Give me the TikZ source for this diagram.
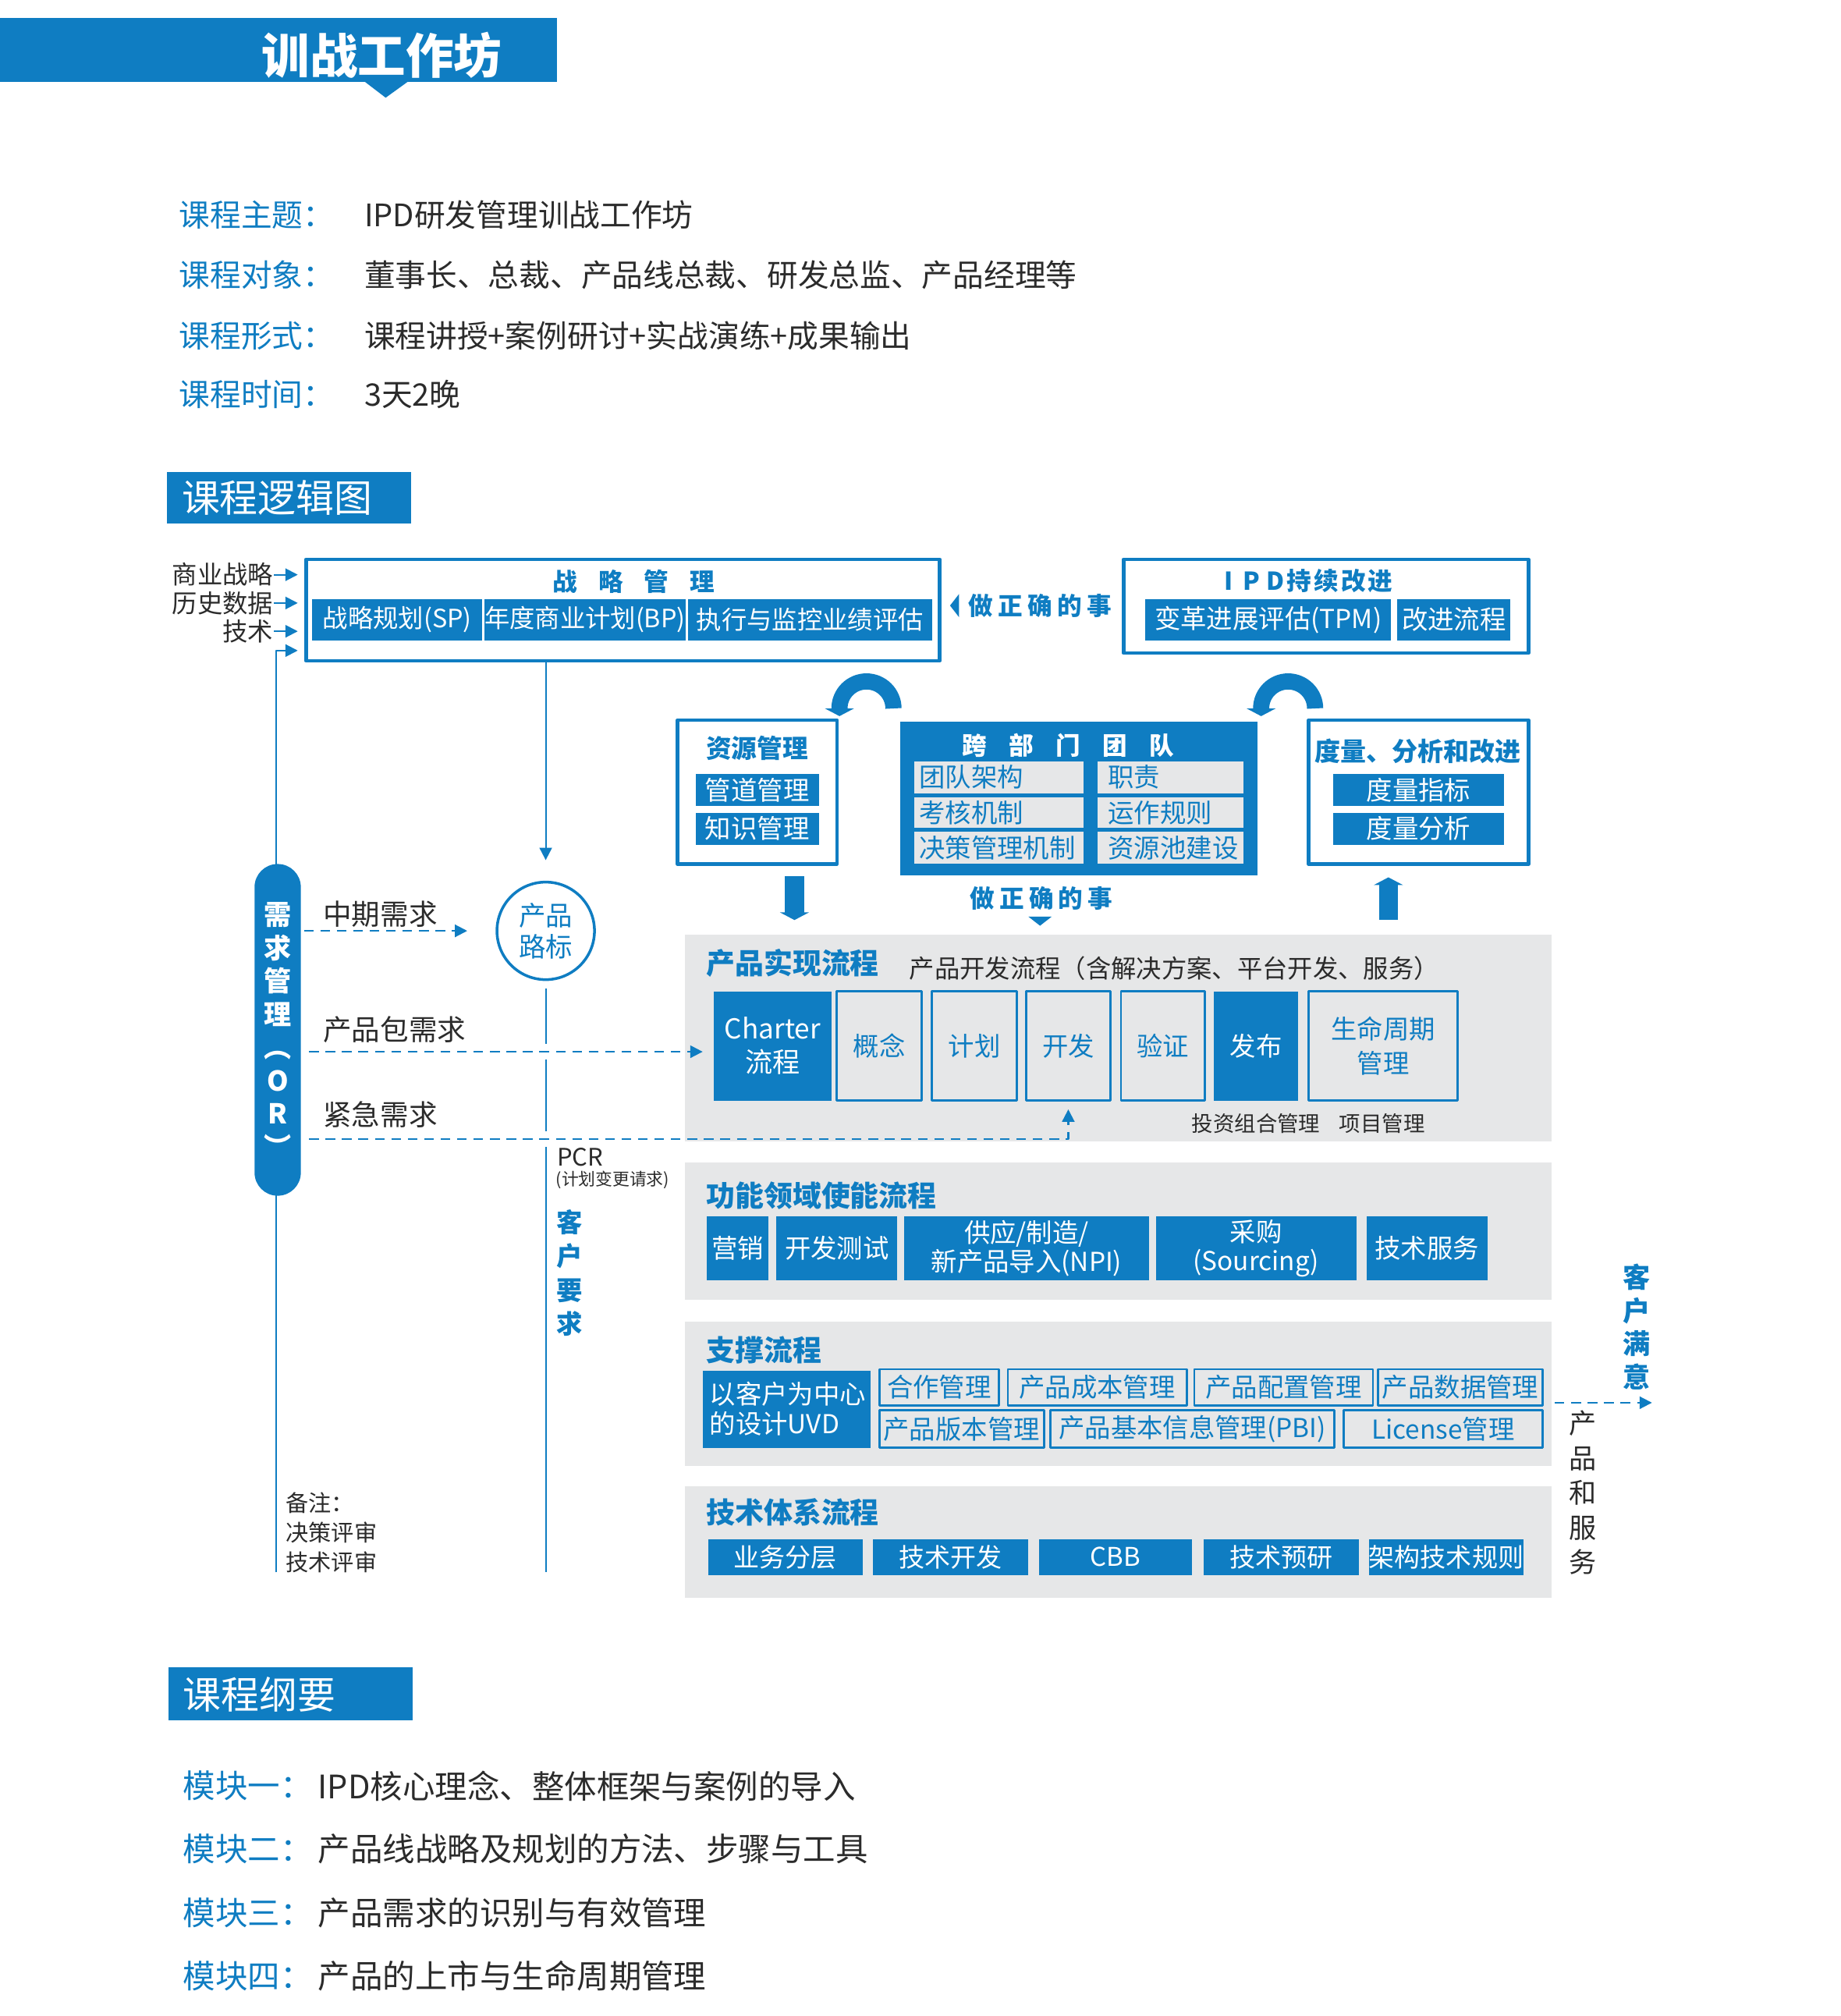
\documentclass[tikz,border=0pt]{standalone}
\usepackage{fontspec}
\setmainfont{Noto Sans CJK SC}
\usetikzlibrary{arrows.meta}
\definecolor{ipdblue}{HTML}{0F7DC2}
\definecolor{panelgray}{HTML}{E6E7E8}
\definecolor{inkgray}{HTML}{2B2B2B}
\newcommand{\pxu}{0.01648cm}
\newcommand{\fs}[2]{\fontsize{#1}{#2}\selectfont}
\newcommand{\gp}[1][0.2em]{\hspace{#1}}
\newcommand{\blk}[7]{\node[#1,minimum width={(#5-#3)*\pxu},minimum height={(#6-#4)*\pxu}] (#2) at ({(#3+#5)/2},{(#4+#6)/2}) {#7};}
\newcommand{\blkl}[8][5]{\pgfmathsetmacro{\tw}{(#6-#4-2*#1)*0.01648}%
  \node[#2,align=left,inner xsep={#1*\pxu},text width=\tw cm,minimum height={(#7-#5)*\pxu}] (#3) at ({(#4+#6)/2},{(#5+#7)/2}) {#8};}
\tikzset{
  hdr/.style={fill=ipdblue},
  frame/.style={draw=ipdblue,line width=1.3pt,fill=white},
  panel/.style={fill=panelgray},
  pill/.style={fill=ipdblue,rounded corners=0.296cm,text=white,align=center,font=\fs{10}{12.1}\bfseries},
  boxb/.style={fill=ipdblue,text=white,align=center,font=\fs{9.5}{12.3}},
  boxo/.style={fill=panelgray,draw=ipdblue,line width=0.8pt,text=ipdblue,align=center,font=\fs{9.5}{12.3}},
  boxg/.style={fill=panelgray,text=ipdblue,font=\fs{9.5}{11}},
  ftitle/.style={text=ipdblue,font=\fs{9}{11}\bfseries},
  ptitle/.style={anchor=west,text=ipdblue,font=\fs{10.5}{12}\bfseries},
  lbl/.style={anchor=west,font=\fs{10.4}{12}},
  vtext/.style={align=center,font=\fs{10}{12.2}},
  thinline/.style={draw=ipdblue,line width=0.6pt},
  dashline/.style={draw=ipdblue,line width=0.6pt,dash pattern=on 3.5pt off 2.5pt},
  fatarrow/.style={draw=ipdblue,line width=7pt,-{Triangle[width=10.5pt,length=2.8pt]}},
  bendarrow/.style={draw=ipdblue,line width=5.9pt,-{Triangle[width=10.5pt,length=2.8pt]}},
}
\begin{document}
\begin{tikzpicture}[x=0.01648cm,y=-0.01648cm,line join=round,>={Triangle[width=4.5pt,length=4.5pt]},
  every node/.style={inner sep=0pt,text=inkgray}]
\useasboundingbox (0,0) rectangle (1432,1568);
\path (0,818) coordinate (pkgy) (0,886) coordinate (urgy)
  (215,506) coordinate (ortop) (215,1223) coordinate (orbot)
  (618,0) coordinate (dnx) (1080,0) coordinate (upx) (1285,1091) coordinate (sat)
  (695,551) coordinate (arcL) (1023,551) coordinate (arcR);

\blk{hdr}{banner}{0}{14}{433}{64}{}
\fill[ipdblue] (283,63) -- (318,63) -- (300,76) -- cycle;
\node[text=white,font=\fs{17.5}{20}\bfseries] (bannerT) at (297,43) {训战工作坊};
\foreach \k/\yy/\lab/\txt in {1/167/课程主题：/IPD研发管理训战工作坊,2/214/课程对象：/董事长、总裁、产品线总裁、研发总监、产品经理等,
  3/261/课程形式：/课程讲授+案例研讨+实战演练+成果输出,4/307/课程时间：/3天2晚}{
  \node[anchor=west,text=ipdblue,font=\fs{11.3}{13}] (infoL\k) at (139,\yy) {\lab};
  \node[anchor=west,font=\fs{11.3}{13}] (infoT\k) at (283,\yy) {\txt};
}
\blk{hdr}{logicH}{130}{367}{320}{407}{}
\node[anchor=west,text=white,font=\fs{13.9}{16}] (logicT) at (141,387) {课程逻辑图};

\blk{panel}{prod}{533}{727}{1207}{888}{}
\blk{panel}{func}{533}{904}{1207}{1011}{}
\blk{panel}{supp}{533}{1028}{1207}{1140}{}
\blk{panel}{tech}{533}{1156}{1207}{1243}{}

\blk{frame}{strat}{238}{435}{731}{514}{}
\node[ftitle] (stratT) at (493,452) {战\gp[0.85em]略\gp[0.85em]管\gp[0.85em]理};
\blk{boxb,font=\fs{9.2}{11}}{sp}{243}{466}{375}{498}{战略规划(SP)}
\blk{boxb,font=\fs{9.2}{11}}{bp}{379}{466}{531}{498}{年度商业计划(BP)}
\blk{boxb,font=\fs{9.2}{11}}{exe}{535}{466}{725}{498}{执行与监控业绩评估}
\fill[ipdblue] (739,471) -- (746,462) -- (746,480) -- cycle;
\node[ftitle] (rightA) at (809,471) {做\gp 正\gp 确\gp 的\gp 事};
\blk{frame}{ipd}{874}{435}{1189}{508}{}
\node[ftitle] (ipdT) at (1018,452) {I\gp[0.4em]P\gp[0.25em]D\gp[0.1em]持\gp[0.1em]续\gp[0.1em]改\gp[0.1em]进};
\blk{boxb}{tpm}{891}{466}{1082}{498}{变革进展评估(TPM)}
\blk{boxb}{imp}{1087}{466}{1175}{498}{改进流程}

\foreach \k/\yy/\lab in {1/447/商业战略,2/469/历史数据,3/491/技术}{
  \node[anchor=east,font=\fs{9.2}{11}] (in\k) at (213,\yy) {\lab};
  \draw[thinline,->,shorten >=0.082cm] (in\k.east) -- (in\k.east -| strat.west);
}
\draw[thinline,->,shorten >=0.082cm] (orbot) |- (strat.west |- ortop);

\draw[bendarrow] (arcL) arc[start angle=0,end angle=-180,radius=21] -- ++(0,6);
\draw[bendarrow] (arcR) arc[start angle=0,end angle=-180,radius=21] -- ++(0,6);

\blk{frame}{res}{527}{560}{651}{672}{}
\node[ftitle,font=\fs{9.3}{11}\bfseries] (resT) at (589,582) {资源管理};
\blk{boxb}{pipe}{541}{602}{637}{627}{管道管理}
\blk{boxb}{know}{541}{632}{637}{657}{知识管理}

\blk{hdr}{team}{700}{561}{978}{681}{}
\node[ftitle,text=white] (teamT) at (831,580) {跨\gp[0.9em]部\gp[0.9em]门\gp[0.9em]团\gp[0.9em]队};
\blkl[4]{boxg}{tA}{711}{592}{843}{617}{团队架构}
\blkl[8]{boxg}{tB}{854}{592}{967}{617}{职责}
\blkl[4]{boxg}{tC}{711}{620}{843}{644}{考核机制}
\blkl[8]{boxg}{tD}{854}{620}{967}{644}{运作规则}
\blkl[4]{boxg}{tE}{711}{647}{843}{672}{决策管理机制}
\blkl[8]{boxg}{tF}{854}{647}{967}{672}{资源池建设}

\blk{frame}{meas}{1018}{560}{1189}{672}{}
\node[ftitle,font=\fs{9.4}{11}\bfseries] (measT) at (1103,584) {度量、分析和改进};
\blk{boxb}{mIdx}{1037}{602}{1170}{627}{度量指标}
\blk{boxb}{mAna}{1037}{632}{1170}{657}{度量分析}

\draw[fatarrow,shorten <=0.132cm,shorten >=0.181cm] (res.south -| dnx) -- (prod.north -| dnx);
\draw[fatarrow,shorten <=0.181cm,shorten >=0.148cm] (prod.north -| upx) -- (meas.south -| upx);
\node[ftitle] (rightB) at (810,699) {做\gp 正\gp 确\gp 的\gp 事};
\fill[ipdblue] (800,713) -- (818,713) -- (809,720) -- cycle;

\node[ptitle] (prodT) at (549,749) {产品实现流程};
\node[anchor=west,font=\fs{9.2}{11}] (prodS) at (707,753) {产品开发流程（含解决方案、平台开发、服务）};
\blk{boxb,font=\fs{10}{12.3}}{charter}{555}{771}{647}{856}{Charter\\流程}
\blk{boxo}{concept}{651}{771}{717}{856}{概念}
\blk{boxo}{plan}{725}{771}{791}{856}{计划}
\blk{boxo}{dev}{798}{771}{864}{856}{开发}
\blk{boxo}{verify}{872}{771}{937}{856}{验证}
\blk{boxb}{launch}{944}{771}{1010}{856}{发布}
\blk{boxo}{life}{1018}{771}{1134}{856}{生命周期\\管理}
\node[font=\fs{7.8}{9}] (pm1) at (977,874) {投资组合管理};
\node[font=\fs{7.8}{9}] (pm2) at (1075,874) {项目管理};

\draw[thinline] (ortop) -- (orbot);
\blk{pill}{or}{198}{672}{234}{930}{需\\求\\管\\理\\︵\\O\\R\\︶}
\node[circle,draw=ipdblue,line width=1pt,minimum size=1.25cm,text=ipdblue,align=center,font=\fs{9.8}{11.3}] (road) at (424.5,724) {产品\\路标};
\draw[thinline,->,shorten >=0.264cm] (strat.south -| road) -- (road.north);
\draw[thinline,shorten <=0.099cm,shorten >=0.099cm] (road.south) -- (road |- pkgy);
\draw[thinline,shorten <=0.099cm,shorten >=0.099cm] (road |- pkgy) -- (road |- urgy);
\draw[thinline,shorten <=0.099cm] (road |- urgy) -- (road |- orbot);

\node[lbl] (midReq) at (251,711) {中期需求};
\node[lbl] (pkgReq) at (251,801) {产品包需求};
\node[lbl] (urgReq) at (251,867) {紧急需求};
\draw[dashline,->,shorten <=0.033cm,shorten >=0.363cm] (or.east |- road) -- (road.west);
\draw[dashline,->,shorten <=0.099cm,shorten >=0.132cm] (or.east |- pkgy) -- (charter.west |- pkgy);
\draw[dashline,->,shorten <=0.099cm,shorten >=0.099cm] (or.east |- urgy) -| (dev.south);
\node[anchor=west,font=\fs{8.8}{10}] (pcr) at (433,900) {PCR};
\node[anchor=west,font=\fs{6.2}{7}] (pcrSub) at (432,918) {(计划变更请求)};
\node[vtext,text=ipdblue,font=\fs{9.5}{12.4}\bfseries] (custReq) at (443,990) {客\\户\\要\\求};
\node[anchor=west,align=left,font=\fs{8.3}{10.8}] (note) at (222,1192) {备注：\\决策评审\\技术评审};

\node[ptitle] (funcT) at (549,930) {功能领域使能流程};
\blk{boxb}{mkt}{550}{946}{598}{996}{营销}
\blk{boxb}{devtest}{604}{946}{698}{996}{开发测试}
\blk{boxb,font=\fs{9.5}{10.4}}{npi}{703}{946}{894}{996}{供应/制造/\\新产品导入(NPI)}
\blk{boxb,font=\fs{9.5}{10.4}}{src}{899}{946}{1055}{996}{采购\\(Sourcing)}
\blk{boxb}{tsvc}{1063}{946}{1157}{996}{技术服务}

\node[ptitle] (suppT) at (549,1050) {支撑流程};
\blkl[5]{boxb,font=\fs{9.5}{10.8}}{uvd}{547}{1066}{677}{1126}{以客户为中心\\的设计UVD}
\blk{boxo}{coop}{684}{1065}{777}{1093}{合作管理}
\blk{boxo}{cost}{784}{1065}{923}{1093}{产品成本管理}
\blk{boxo}{cfg}{929}{1065}{1068}{1093}{产品配置管理}
\blk{boxo}{data}{1072}{1065}{1200}{1093}{产品数据管理}
\blk{boxo}{ver}{684}{1097}{812}{1126}{产品版本管理}
\blk{boxo}{pbi}{817}{1097}{1038}{1126}{产品基本信息管理(PBI)}
\blk{boxo}{lic}{1045}{1097}{1200}{1126}{License管理}

\node[ptitle] (techT) at (549,1176) {技术体系流程};
\blk{boxb,font=\fs{9.4}{11}}{layer}{551}{1197}{671}{1225}{业务分层}
\blk{boxb,font=\fs{9.4}{11}}{tdev}{679}{1197}{800}{1225}{技术开发}
\blk{boxb,font=\fs{9.4}{11}}{cbb}{808}{1197}{927}{1225}{CBB}
\blk{boxb,font=\fs{9.4}{11}}{tres}{936}{1197}{1057}{1225}{技术预研}
\blk{boxb,font=\fs{9.4}{11}}{arch}{1065}{1197}{1185}{1225}{架构技术规则}

\draw[dashline,->,shorten <=0.033cm] (supp.east |- sat) -- (sat);
\node[vtext,text=ipdblue,font=\fs{10}{12.2}\bfseries] (custSat) at (1273,1032) {客\\户\\满\\意};
\node[vtext,font=\fs{10}{12.7}] (prodSvc) at (1231,1161) {产\\品\\和\\服\\务};

\blk{hdr}{outlineH}{131}{1297}{321}{1338}{}
\node[anchor=west,text=white,font=\fs{13.9}{16}] (outlineT) at (142,1318) {课程纲要};
\foreach \k/\yy/\lab/\txt in {1/1389/模块一：/IPD核心理念、整体框架与案例的导入,2/1438/模块二：/产品线战略及规划的方法、步骤与工具,
  3/1488/模块三：/产品需求的识别与有效管理,4/1537/模块四：/产品的上市与生命周期管理}{
  \node[anchor=west,text=ipdblue,font=\fs{11.8}{14}] (modL\k) at (142,\yy) {\lab};
  \node[anchor=west,font=\fs{11.8}{14}] (modT\k) at (247,\yy) {\txt};
}
\end{tikzpicture}
\end{document}
